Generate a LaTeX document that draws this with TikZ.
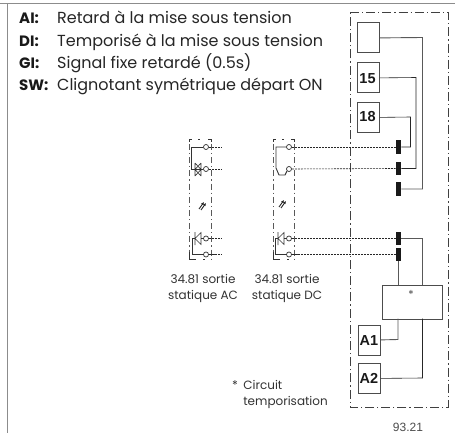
\documentclass[tikz,border=0pt]{standalone}
\usepackage{fontspec}
\setmainfont{Poppins}
\newfontfamily\arialf{Liberation Sans}
\usetikzlibrary{arrows.meta}
\tikzset{
 x=1pt,y=-1pt,
 grayl/.style={draw=black!65,line width=0.9pt},
 blk/.style={draw=black!85,line width=0.6pt},
 dd/.style={draw=black!85,line width=0.6pt,dash pattern=on 2pt off 1pt},
 dashdot/.style={draw=black!75,line width=0.7pt,dash pattern=on 9pt off 3pt on 1.2pt off 3pt},
 sym/.style={draw=black!80,line width=0.6pt},
 symbox/.style={draw=black!65,line width=0.7pt,dash pattern=on 6pt off 3pt on 1.2pt off 3pt},
 term/.style={draw=black!70,line width=0.8pt,fill=white,minimum width=22pt,minimum height=30pt,inner sep=0pt,anchor=north west},
 tl/.style={font=\arialf\bfseries\fontsize{14.5}{14.5}\selectfont,inner sep=0pt,text=black!90},
 pin/.style={fill=black!90,draw=none,minimum width=5.5pt,minimum height=13.5pt,inner sep=0pt},
 lab/.style={font=\fontsize{12}{16}\selectfont,text=black!80,align=center},
 hd/.style={font=\fontsize{16}{16}\selectfont,text=black!85,anchor=base west,inner sep=0pt},
 hb/.style={font=\bfseries\fontsize{15}{15}\selectfont,text=black!90,anchor=base west,inner sep=0pt},
 arr/.style={draw=black!85,line width=0.9pt,-{Latex[length=3pt,width=3pt]}},
 ring/.style={draw=black!80,line width=0.7pt,circle,minimum size=5pt,inner sep=0pt,fill=white},
}
\begin{document}
\begin{tikzpicture}
\useasboundingbox (0,0) rectangle (455,433);
\fill[white] (0,0) rectangle (455,433);
\draw[draw=black!45,line width=1.6pt] (0,3.5) -- (455,3.5);
\draw[draw=black!45,line width=0.9pt] (7,3.5) -- (7,433);
% header
\node[hb] (ha) at (19,23.5) {AI:};
\node[hb] (hd) at (19,47) {DI:};
\node[hb] (hg) at (19,69) {GI:};
\node[hb] (hs) at (19,91) {SW:};
\node[hd] (ta) at (57,23.5) {Retard à la mise sous tension};
\node[hd] (td) at (57,47) {Temporisé à la mise sous tension};
\node[hd] (tg) at (57,69) {Signal fixe retardé (0.5s)};
\node[hd] (ts) at (57,91) {Clignotant symétrique départ ON};
% outer dash-dot box
\draw[dashdot] (350,12) -- (448,12) -- (448,407) -- (350,407) -- cycle;
% terminals
\node[term] (t0) at (357,22.5) {};
\node[term] (t1) at (357,62.5) {};
\node[tl] (n15) at (367.5,78.5) {15};
\node[term] (t2) at (357,102) {};
\node[tl] (n18) at (367.5,117) {18};
\node[pin] (p1) at (398.5,147) {};
\node[pin] (p2) at (398.5,168.5) {};
\node[pin] (p3) at (398.5,189) {};
\node[pin] (p4) at (398.5,238.5) {};
\node[pin] (p5) at (398.5,254.5) {};
\node[term,minimum width=60pt,minimum height=33.5pt] (star) at (382,285) {};
\node[font=\fontsize{11}{11}\selectfont,text=black!70,inner sep=0pt] (stl) at (411,294) {*};
\node[term] (a1) at (358,324.5) {};
\node[tl] (na1) at (369,341) {A1};
\node[term] (a2) at (358,363) {};
\node[tl] (na2) at (369,378.5) {A2};
% wires
\draw[grayl] (t0.east) -- (422.5,37.5) -- (422.5,189) -- (p3.east);
\draw[blk] (t1.east) -- (416,77.5) -- (416,168.5) -- (p2.east);
\draw[blk] (t2.east) -- (410.5,117) -- (410.5,147) -- (p1.east);
\draw[grayl] (p4.east) -- (422,238.5) -- (422,285);
\draw[grayl] (p5.south) -- (398.5,285);
\draw[grayl] (398,318.5) -- (398,339.5) -- (a1.east);
\draw[blk] (422.5,318.5) -- (422.5,378) -- (a2.east);
% symbol frames
\foreach \l/\r in {189/211,273/294}{
 \draw[symbox] (\l,144) -- (\l,259);
 \draw[symbox] (\r,144) -- (\r,259);
 \draw[sym,line width=0.7pt] (\l,142) -- (\l,139) -- (\l+3,139) (\r-3,139) -- (\r,139) -- (\r,142);
 \draw[sym,line width=0.7pt] (\l+9,139) -- (\l+11,139);
 \draw[sym,line width=0.7pt] (\l,252) -- (\l,259) -- (\l+7,259) (\l+14,259) -- (\l+16,259);
}
% AC upper
\node[ring] (c1) at (206,147) {};
\node[ring] (c2) at (206,169) {};
\draw[sym,line width=0.9pt] (c1.west) -- (191.5,147) -- (191.5,169) -- (c2.west);
\draw[sym] (195,163) -- (195,176) (195,163) -- (201,169.5) -- (195,176) (201,163) -- (201,176) (201,163) -- (195,169.5) -- (201,176);
% DC upper
\node[ring] (c3) at (289,147) {};
\node[ring] (c4) at (289,169) {};
\draw[sym,line width=0.9pt] (c3.west) -- (276,147) -- (276,168) -- (279,175) -- (285,175) -- (c4.south west);
% arrows
\draw[arr] (199,209) -- (204,202);
\draw[arr] (201,210) -- (206,203);
\draw[arr] (279,207) -- (284,200);
\draw[arr] (281,208) -- (286,201);
% lower symbols
\foreach \s/\nm in {0/a,83/b}{
 \begin{scope}[shift={(\s,0)}]
 \node[ring] (k1\nm) at (206,238.5) {};
 \node[ring] (k2\nm) at (206,254.5) {};
 \draw[sym] (k2\nm.west) -- (192,254.5) -- (192,238.5) -- (195,238.5);
 \draw[sym] (195,232) -- (195,245) (195,238.5) -- (201,232.5) -- (201,244.5) -- cycle;
 \draw[sym] (201,238.5) -- (k1\nm.west);
 \draw[sym] (k2\nm.east) -- (215,254.5);
 \end{scope}
}
% dashed leads
\draw[dd] (c3.east) -- (p1.west);
\draw[dd] (c4.east) -- (p2.west);
\draw[dd] (k1b.east) -- (p4.west);
\draw[dd] (k2b.east) -- (p5.west);
\coordinate (e1) at (221,147);
\coordinate (e2) at (221,169);
\coordinate (e3) at (221,238.5);
\coordinate (e4) at (221,254.5);
\draw[dd] (c1.east) -- (e1);
\draw[dd] (c2.east) -- (e2);
\draw[dd] (k1a.east) -- (e3);
\draw[dd] (k2a.east) -- (e4);
% labels
\node[lab,inner sep=0pt] (l1) at (203,288) {34.81 sortie\\statique AC};
\node[lab,inner sep=0pt] (l2) at (287,288) {34.81 sortie\\statique DC};
\node[lab,anchor=base east,inner sep=0pt] (l4) at (328,405) {temporisation};
\node[lab,anchor=base west,inner sep=0pt] (l3) at (l4.base west |- 0,389) {Circuit};
\node[lab,anchor=base east,inner sep=0pt] (l5) at ([xshift=-5pt]l3.base west) {*};
\node[font=\arialf\fontsize{12}{12}\selectfont,text=black!70,inner sep=0pt,anchor=base] (code) at (408,431.5) {93.21};
\end{tikzpicture}
\end{document}
